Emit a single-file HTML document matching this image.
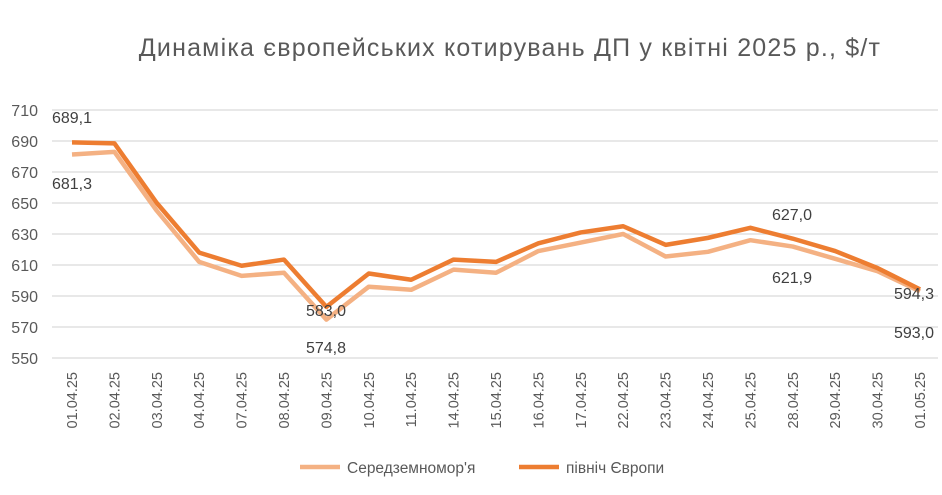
<!DOCTYPE html>
<html><head><meta charset="utf-8"><style>body{margin:0;background:#fff}svg{display:block}</style></head><body>
<svg width="942" height="495" xmlns="http://www.w3.org/2000/svg" font-family="Liberation Sans, sans-serif">
<text x="510" y="56" text-anchor="middle" font-size="25" letter-spacing="1.2" fill="#595959">Динаміка європейських котирувань ДП у квітні 2025 р., $/т</text>
<g stroke="#d9d9d9" stroke-width="1.3" id="grid"></g>
<g id="yl" font-size="16" fill="#595959" text-anchor="end"></g>
<g id="xl" font-size="14.5" fill="#595959"></g>
<polyline id="med" fill="none" stroke="#F4B183" stroke-width="4.5" stroke-linejoin="round"/>
<polyline id="nor" fill="none" stroke="#ED7D31" stroke-width="4.5" stroke-linejoin="round"/>
<g font-size="16" fill="#404040" text-anchor="middle">
<text x="72" y="123">689,1</text><text x="72" y="189">681,3</text>
<text x="326" y="316">583,0</text><text x="326" y="353">574,8</text>
<text x="792" y="220">627,0</text><text x="792" y="283">621,9</text>
<text x="914" y="299">594,3</text><text x="914" y="338">593,0</text>
</g>
<line x1="300" y1="467" x2="340" y2="467" stroke="#F4B183" stroke-width="4.5"/>
<text x="347" y="473" font-size="15.5" fill="#595959">Середземномор'я</text>
<line x1="519" y1="467" x2="559" y2="467" stroke="#ED7D31" stroke-width="4.5"/>
<text x="566" y="473" font-size="15.5" fill="#595959">північ Європи</text>
<script>
var ns="http://www.w3.org/2000/svg";
function Y(v){return 110+(710-v)*1.55;}
function X(i){return 72+i*42.4;}
var g=document.getElementById('grid'),yl=document.getElementById('yl'),xl=document.getElementById('xl');
for(var v=550;v<=710;v+=20){var l=document.createElementNS(ns,'line');l.setAttribute('x1',52);l.setAttribute('x2',938);l.setAttribute('y1',Y(v));l.setAttribute('y2',Y(v));g.appendChild(l);
var t=document.createElementNS(ns,'text');t.setAttribute('x',38);t.setAttribute('y',Y(v)+6);t.textContent=v;yl.appendChild(t);}
var d=["01.04.25","02.04.25","03.04.25","04.04.25","07.04.25","08.04.25","09.04.25","10.04.25","11.04.25","14.04.25","15.04.25","16.04.25","17.04.25","22.04.25","23.04.25","24.04.25","25.04.25","28.04.25","29.04.25","30.04.25","01.05.25"];
d.forEach(function(s,i){var t=document.createElementNS(ns,'text');t.setAttribute('transform','translate('+(X(i)+5)+',372) rotate(-90)');t.setAttribute('text-anchor','end');t.textContent=s;xl.appendChild(t);});
var n=[689.1,688.5,650,618,609.5,613.5,583,604.5,600.5,613.5,612,624,631,635,623,627.5,634,627,619,608,594.3];
var m=[681.3,683,645,612,603,605,574.8,596,594,607,605,619,624.5,630,615.5,618.5,626,621.9,614,606,593];
function pts(a){return a.map(function(v,i){return X(i)+','+Y(v)}).join(' ');}
document.getElementById('nor').setAttribute('points',pts(n));
document.getElementById('med').setAttribute('points',pts(m));
</script>
</svg>
</body></html>
